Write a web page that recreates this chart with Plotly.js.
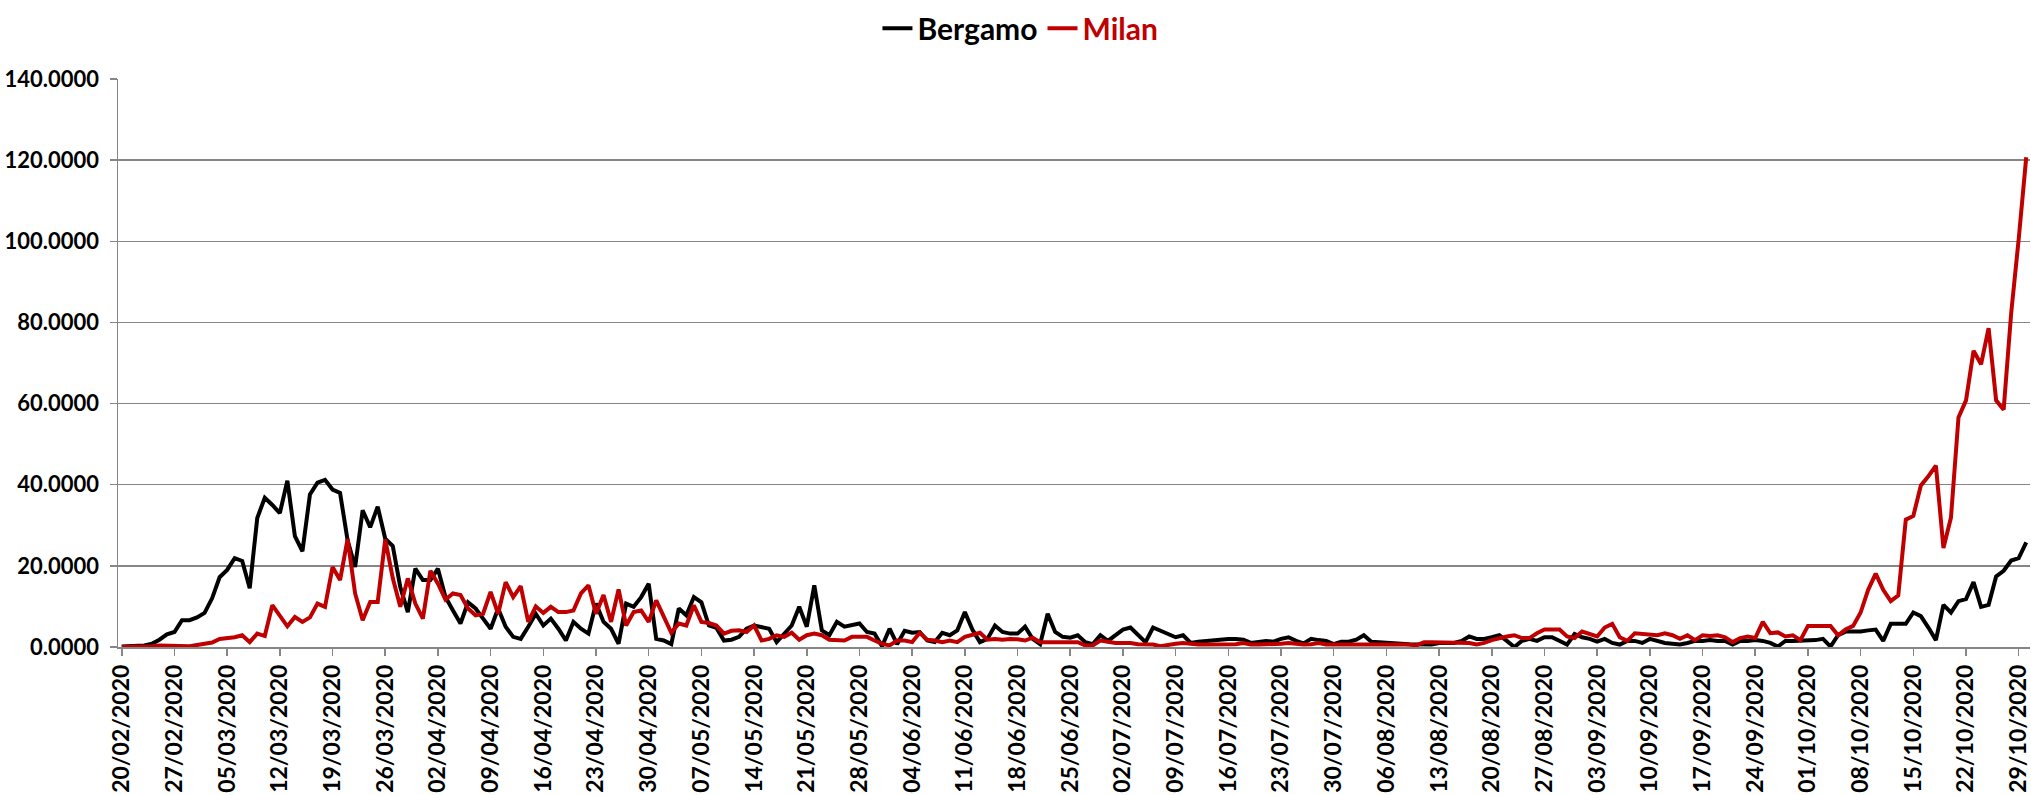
<!DOCTYPE html>
<html>
<head>
<meta charset="utf-8">
<script src="https://cdn.plot.ly/plotly-3.0.1.min.js"></script>
<style>
	html, body { margin: 0; padding: 0; background: #fff; }
	#chart { width: 2031px; height: 795px; }
</style>
</head>
<body>
<div id="chart"></div>
<script>
'use strict';

// first day of the series, one value per day
var startDay = '2020-02-20';

var bergamo = [
	0.1, 0.2, 0.3, 0.4, 0.8, 1.8, 3.1, 3.7, 6.6, 6.6,
	7.3, 8.4, 12.0, 17.2, 19.0, 21.9, 21.2, 14.5, 31.8, 36.8,
	35.0, 33.0, 41.0, 27.3, 23.6, 37.6, 40.5, 41.2, 38.8, 38.0,
	26.3, 19.7, 33.7, 29.5, 34.6, 26.7, 24.9, 14.8, 8.6, 19.3,
	16.5, 16.5, 19.3, 12.3, 9.0, 5.8, 11.0, 9.5, 7.0, 4.5,
	9.5, 5.0, 2.5, 2.0, 5.0, 8.2, 5.3, 7.0, 4.5, 1.6,
	6.2, 4.5, 3.3, 10.7, 6.2, 4.5, 0.8, 10.7, 9.9, 12.3,
	15.6, 2.0, 1.6, 0.7, 9.5, 7.8, 12.3, 11.0, 5.3, 4.7,
	1.6, 1.8, 2.5, 4.5, 5.3, 5.0, 4.5, 1.2, 3.3, 5.3,
	9.9, 5.0, 15.2, 4.1, 2.9, 6.2, 5.0, 5.3, 5.8, 3.7,
	3.3, 0.2, 4.5, 0.7, 4.0, 3.5, 3.7, 1.6, 1.2, 3.5,
	2.9, 4.1, 8.6, 4.3, 1.2, 2.0, 5.3, 3.7, 3.3, 3.3,
	5.0, 2.0, 0.7, 8.2, 3.7, 2.5, 2.3, 2.9, 1.2, 0.7,
	2.9, 1.5, 3.0, 4.3, 4.8, 2.9, 1.2, 4.8, 4.0, 3.2,
	2.4, 2.9, 1.0, 1.3, 1.5, 1.8, 2.0, 2.0, 2.0, 1.8,
	1.0, 1.3, 1.5, 1.3, 2.0, 2.4, 1.5, 0.9, 2.0, 1.7,
	1.5, 0.7, 1.3, 1.3, 1.8, 2.9, 1.3, 1.2, 1.0, 1.0,
	0.8, 0.7, 0.6, 0.6, 0.6, 1.0, 1.0, 1.0, 1.5, 2.6,
	2.0, 2.0, 2.4, 2.9, 1.5, 0.0, 1.5, 2.0, 1.5, 2.4,
	2.4, 1.5, 0.6, 3.2, 2.4, 2.0, 1.3, 2.0, 1.0, 0.6,
	1.5, 1.5, 1.0, 2.0, 1.5, 1.0, 0.8, 0.6, 1.0, 1.5,
	1.5, 1.7, 1.5, 1.5, 0.6, 1.5, 1.5, 1.7, 1.5, 1.0,
	0.1, 1.5, 1.5, 1.5, 1.7, 1.7, 2.0, 0.1, 2.9, 3.8,
	3.8, 3.8, 4.1, 4.3, 1.5, 5.7, 5.7, 5.7, 8.5, 7.6,
	4.8, 1.7, 10.4, 8.5, 11.3, 11.8, 16.0, 9.9, 10.4, 17.4,
	18.8, 21.3, 21.9, 25.8
];

var milan = [
	0.0, 0.0, 0.1, 0.1, 0.2, 0.4, 0.3, 0.4, 0.3, 0.2,
	0.5, 0.7, 1.1, 2.0, 2.1, 2.4, 2.9, 1.2, 3.3, 2.7,
	10.3, 7.9, 5.1, 7.4, 6.2, 7.3, 10.7, 9.9, 19.7, 16.5,
	26.6, 13.2, 6.6, 11.1, 11.1, 26.5, 17.0, 9.9, 16.9, 10.7,
	7.0, 18.8, 15.6, 11.7, 13.2, 12.8, 9.5, 7.8, 8.2, 13.6,
	8.2, 16.0, 12.3, 15.0, 6.2, 10.0, 8.4, 9.9, 8.6, 8.6,
	9.0, 13.2, 15.2, 8.2, 12.8, 6.2, 14.2, 5.3, 8.6, 9.0,
	6.2, 11.5, 7.4, 3.5, 5.8, 5.3, 10.3, 6.2, 5.9, 5.3,
	3.3, 4.0, 4.1, 3.7, 5.3, 1.6, 2.0, 2.9, 2.5, 3.5,
	1.8, 2.9, 3.3, 2.9, 1.8, 1.6, 1.6, 2.5, 2.5, 2.5,
	1.6, 0.8, 0.4, 1.6, 1.6, 1.2, 3.5, 1.8, 1.6, 1.2,
	1.6, 1.2, 2.5, 3.1, 3.5, 1.8, 2.0, 1.8, 2.0, 1.9,
	1.6, 2.3, 1.2, 1.2, 1.2, 1.2, 1.2, 1.2, 0.4, 0.4,
	1.6, 1.3, 1.0, 1.0, 1.0, 0.7, 0.6, 0.6, 0.2, 0.6,
	0.8, 1.0, 0.7, 0.6, 0.6, 0.6, 0.6, 0.7, 0.7, 1.0,
	0.6, 0.6, 0.6, 0.7, 0.8, 1.0, 0.8, 0.6, 0.7, 1.0,
	0.6, 0.6, 0.7, 0.6, 0.6, 0.6, 0.6, 0.6, 0.6, 0.6,
	0.6, 0.6, 0.4, 1.2, 1.2, 1.2, 1.2, 1.2, 1.2, 1.0,
	0.6, 1.0, 1.7, 2.2, 2.6, 2.9, 2.2, 2.2, 3.4, 4.3,
	4.3, 4.3, 2.6, 2.2, 3.8, 3.2, 2.6, 4.8, 5.7, 2.4,
	1.5, 3.4, 3.2, 3.2, 2.9, 3.4, 2.9, 2.0, 2.9, 1.7,
	2.9, 2.7, 2.9, 2.4, 1.2, 2.2, 2.6, 2.2, 6.2, 3.4,
	3.6, 2.6, 2.9, 1.7, 5.2, 5.2, 5.2, 5.2, 2.9, 4.3,
	5.2, 8.5, 14.1, 18.1, 14.1, 11.3, 12.7, 31.4, 32.3, 39.8,
	42.1, 44.7, 24.4, 31.9, 56.6, 60.8, 73.0, 69.7, 78.6, 60.8,
	58.5, 82.3, 100.6, 120.7
];

var pad = function(n) {
	return (n < 10 ? '0' : '') + n;
};

// day i after startDay, as a Date (UTC)
var dayAt = function(i) {
	var d = new Date(startDay + 'T00:00:00Z');
	d.setUTCDate(d.getUTCDate() + i);
	return d;
};

var isoDay = function(d) {
	return d.getUTCFullYear() + '-' + pad(d.getUTCMonth() + 1) + '-' + pad(d.getUTCDate());
};

// each value sits in the middle of its day
var days = [];
for (var i = 0; i < bergamo.length; i++) {
	days.push(isoDay(dayAt(i)) + ' 12:00');
}

// weekly labels dd/mm/yyyy
var tickVals = [];
var tickText = [];
for (var w = 0; w < bergamo.length; w += 7) {
	var d = dayAt(w);
	tickVals.push(isoDay(d) + ' 12:00');
	tickText.push(pad(d.getUTCDate()) + '/' + pad(d.getUTCMonth() + 1) + '/' + d.getUTCFullYear());
}

var font = 'Lato, "Open Sans", sans-serif';
var grey = '#868686';

var traceBergamo = {
	x: days,
	y: bergamo,
	type: 'scatter',
	mode: 'lines',
	name: '<span style="color:#000000">Bergamo</span>',
	line: { color: '#000000', width: 4 }
};

var traceMilan = {
	x: days,
	y: milan,
	type: 'scatter',
	mode: 'lines',
	name: '<span style="color:#C00000">Milan</span>',
	line: { color: '#C00000', width: 4 }
};

var layout = {
	width: 2031,
	height: 795,
	autosize: false,
	margin: { l: 118, r: 1, t: 79, b: 148 },
	paper_bgcolor: '#ffffff',
	plot_bgcolor: '#ffffff',
	font: { family: font, color: '#000000' },
	showlegend: true,
	legend: {
		orientation: 'h',
		x: 0.472,
		xanchor: 'center',
		y: 1.135,
		yanchor: 'top',
		font: { family: font, size: 30, weight: 'bold' }
	},
	xaxis: {
		type: 'date',
		range: [startDay + ' 00:00', isoDay(dayAt(bergamo.length)) + ' 00:00'],
		tickmode: 'array',
		tickvals: tickVals,
		ticktext: tickText,
		tickangle: -90,
		tickfont: { family: font, size: 23, weight: 'bold', color: '#000000' },
		ticklabeloverflow: 'allow',
		ticks: 'outside',
		ticklen: 7,
		tickwidth: 1.5,
		tickcolor: grey,
		showgrid: false,
		showline: true,
		linecolor: grey,
		linewidth: 1.5,
		zeroline: false,
		fixedrange: true
	},
	yaxis: {
		range: [0, 140],
		dtick: 20,
		tickformat: '.4f',
		tickfont: { family: font, size: 22, weight: 'bold', color: '#000000' },
		ticks: 'outside',
		ticklen: 7,
		tickwidth: 1.5,
		tickcolor: grey,
		ticklabelstandoff: 6,
		showgrid: true,
		gridcolor: grey,
		gridwidth: 1.5,
		showline: true,
		linecolor: grey,
		linewidth: 1.5,
		zeroline: false,
		fixedrange: true
	}
};

Plotly.newPlot('chart', [traceBergamo, traceMilan], layout, { displayModeBar: false, staticPlot: true });
</script>
</body>
</html>
